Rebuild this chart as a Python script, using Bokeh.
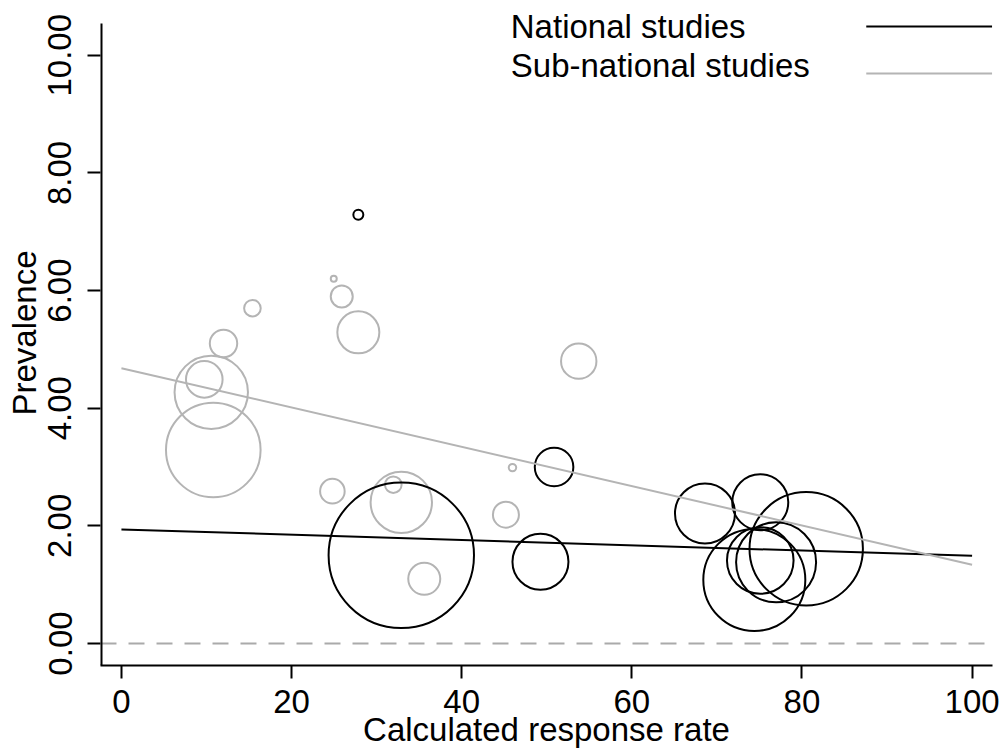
from bokeh.plotting import figure
from bokeh.models import FixedTicker, PrintfTickFormatter, Span, Label, Arrow, Range1d
from bokeh.embed import file_html
from bokeh.resources import INLINE
import numpy as np

# ---- data ----
nat_rate = [27.85, 50.86, 49.26, 32.9, 68.6, 75.1, 80.5, 74.4, 75.1, 76.96]
nat_prev = [7.29, 3.00, 1.39, 1.50, 2.21, 2.40, 1.61, 1.08, 1.41, 1.38]
nat_weight = [25, 372, 784, 5285, 900, 784, 3215, 2601, 1109, 1600]

sub_rate = [15.4, 24.96, 25.9, 27.85, 12.0, 9.74, 10.56, 10.8, 24.8, 31.96, 32.9, 35.6, 53.76, 45.97, 45.2]
sub_prev = [5.70, 6.20, 5.90, 5.29, 5.10, 4.49, 4.27, 3.29, 2.59, 2.70, 2.40, 1.10, 4.80, 2.99, 2.19]
sub_weight = [69, 9, 121, 441, 188, 335, 1347, 2237, 151, 69, 942, 256, 313, 14, 169]

# fitted lines (intercept, slope)
nat_fit = (1.94, -0.0045)
sub_fit = (4.68, -0.0334)
fit_x = [0, 100]

x_ticks = [0, 20, 40, 60, 80, 100]
y_ticks = [0, 2, 4, 6, 8, 10]
legend_labels = ["National studies", "Sub-national studies"]

X_MIN, X_MAX = -2.46, 102.4
Y_MIN, Y_AXIS_TOP, Y_MAX = -0.374, 10.54, 10.931

BLACK = "#000000"
GREY = "#b4b4b4"
FONT = "Liberation Sans"
FS = "33px"

p = figure(width=1004, height=752, output_backend="svg", toolbar_location=None,
           x_range=Range1d(X_MIN, X_MAX), y_range=Range1d(Y_MIN, Y_MAX),
           min_border_left=100, min_border_right=12, min_border_top=0, min_border_bottom=87)
p.outline_line_color = None
p.xgrid.visible = False
p.ygrid.visible = False
p.background_fill_color = "white"
p.border_fill_color = "white"

# reference line at zero
p.add_layout(Span(location=0, dimension="width", line_color="#aaaaaa", line_width=2, line_dash="16 12"))

# bubbles
p.scatter(sub_rate, sub_prev, size=[2 * np.sqrt(w) for w in sub_weight], marker="circle",
          fill_color=None, line_color=GREY, line_width=2)
p.scatter(nat_rate, nat_prev, size=[2 * np.sqrt(w) for w in nat_weight], marker="circle",
          fill_color=None, line_color=BLACK, line_width=2)

# fitted lines
p.line(fit_x, [nat_fit[0] + nat_fit[1] * x for x in fit_x], line_color=BLACK, line_width=2)
p.line(fit_x, [sub_fit[0] + sub_fit[1] * x for x in fit_x], line_color=GREY, line_width=2)

# axes
for ax in (p.xaxis[0], p.yaxis[0]):
    ax.axis_line_width = 2
    ax.axis_line_color = BLACK
    ax.major_tick_line_width = 2
    ax.major_tick_line_color = BLACK
    ax.major_tick_out = 13
    ax.major_tick_in = 0
    ax.minor_tick_line_color = None
    ax.major_label_text_font = FONT
    ax.major_label_text_font_size = FS
    ax.major_label_text_color = BLACK
    ax.axis_label_text_font = FONT
    ax.axis_label_text_font_size = FS
    ax.axis_label_text_font_style = "normal"
    ax.axis_label_text_color = BLACK

# y axis line stops below the legend area (as in the original)
p.yaxis.axis_line_color = None
p.add_layout(Arrow(x_start=X_MIN, y_start=Y_MIN, x_end=X_MIN, y_end=Y_AXIS_TOP,
                   start=None, end=None, line_color=BLACK, line_width=4))

p.xaxis.ticker = FixedTicker(ticks=x_ticks)
p.yaxis.ticker = FixedTicker(ticks=y_ticks)
p.yaxis.formatter = PrintfTickFormatter(format="%.2f")
p.yaxis.major_label_orientation = "vertical"
p.xaxis.axis_label = "Calculated response rate"
p.yaxis.axis_label = "Prevalence"
p.xaxis.major_label_standoff = 11
p.yaxis.major_label_standoff = 16
p.xaxis.axis_label_standoff = -5
p.yaxis.axis_label_standoff = 3

# legend (text on the left, line sample on the right)
leg_text_x = 45.77
leg_y = [10.49, 9.83]
leg_line_y = [10.49, 9.69]
leg_line_x = (87.56, 102.35)
for lab, ty, ly, col in zip(legend_labels, leg_y, leg_line_y, [BLACK, GREY]):
    p.add_layout(Label(x=leg_text_x, y=ty, text=lab, text_font=FONT, text_font_size=FS,
                       text_color=BLACK, text_baseline="alphabetic", text_align="left"))
    p.add_layout(Arrow(x_start=leg_line_x[0], y_start=ly, x_end=leg_line_x[1], y_end=ly,
                       end=None, start=None, line_color=col, line_width=2))

open("out.html", "w").write(file_html(p, INLINE))
